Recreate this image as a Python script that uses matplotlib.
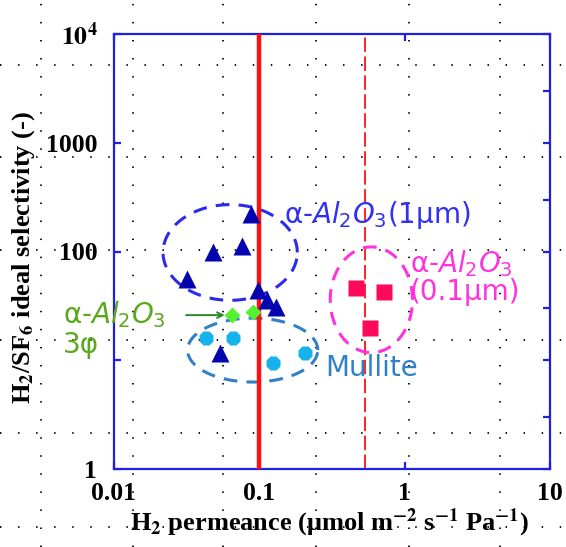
import numpy as np
import matplotlib
matplotlib.use("Agg")
import matplotlib.pyplot as plt
from matplotlib.lines import Line2D

# ===============================
# Data
# ===============================
tri_x = [0.087, 0.076, 0.048, 0.032, 0.098, 0.113, 0.13, 0.054]
tri_y = [223, 113, 98, 56, 44, 36, 31, 11.6]

dia_x = [0.065, 0.09]
dia_y = [26, 27.6]

mul_x = [0.043, 0.066, 0.125, 0.207]
mul_y = [16, 16, 9.4, 11.6]

sq_x = [0.46, 0.72, 0.58]
sq_y = [46, 42, 20]

x_ticks = [0.01, 0.1, 1, 10]
x_labels = ["0.01", "0.1", "1", "10"]
y_ticks = [1, 10, 100, 1000, 10000]
y_labels = ["1", "", "100", "1000", r"$\mathbf{10^4}$"]

# ellipses: (centre x, centre y, half-width in decades, half-height in decades)
ell_blue = (0.063, 98, 0.462, 0.44)
ell_mul = (0.09, 12.4, 0.448, 0.294)
ell_pink = (0.59, 36, 0.283, 0.486)

line_solid = 0.1
line_dash = 0.53

W, H = 566, 547
fig = plt.figure(figsize=(W / 100, H / 100), dpi=100)

# dotted background grid over the whole picture
for px in [41, 133, 223, 316, 409, 500]:
    fig.add_artist(Line2D([px / W, px / W], [0, 1], transform=fig.transFigure,
                          color="black", lw=1.3, linestyle=(0, (0.8, 9.2)), zorder=0))
for py in [65, 157, 250, 340, 433, 527]:
    fig.add_artist(Line2D([0, 1], [1 - py / H, 1 - py / H], transform=fig.transFigure,
                          color="black", lw=1.3, linestyle=(0, (0.8, 9.2)), zorder=0))

ax = fig.add_axes([114 / W, 1 - 469 / H, 436 / W, 435 / H])
ax.patch.set_alpha(0)
ax.set_xscale("log")
ax.set_yscale("log")
ax.set_xlim(0.01, 10)
ax.set_ylim(1, 10000)

spine_c = "#2020e0"
for s in ax.spines.values():
    s.set_color(spine_c)
    s.set_linewidth(1.6)

ax.set_xticks(x_ticks)
ax.set_xticklabels(x_labels)
ax.set_yticks(y_ticks)
ax.set_yticklabels(y_labels)
ax.set_yticks([3, 30, 300, 3000], minor=True)
ax.set_yticklabels([], minor=True)
ax.xaxis.set_minor_locator(matplotlib.ticker.NullLocator())
ax.tick_params(which="major", direction="in", length=5, width=1.6, color=spine_c,
               top=True, right=True, labelsize=18.5)
ax.tick_params(axis="y", which="major", pad=12)
ax.tick_params(axis="x", which="major", pad=9)
ax.tick_params(which="minor", direction="in", length=5, width=1.6, color=spine_c,
               left=False, right=True)
for lab in ax.get_xticklabels() + ax.get_yticklabels():
    lab.set_family("Liberation Serif")
    lab.set_fontweight("bold")
    lab.set_math_fontfamily("stix")

ax.set_xlabel(r"H$_\mathbf{2}$ permeance (μmol m$^{\mathbf{-2}}$ s$^{\mathbf{-1}}$ Pa$^{\mathbf{-1}}$)",
              family="Liberation Serif", fontweight="bold", fontsize=19,
              math_fontfamily="stix", va="center")
ax.set_ylabel(r"H$_\mathbf{2}$/SF$_\mathbf{6}$ ideal selectivity (-)",
              family="Liberation Serif", fontweight="bold", fontsize=19,
              math_fontfamily="stix", va="center")
ax.xaxis.set_label_coords((329 - 114) / 436, (469 - 523) / 435)
ax.yaxis.set_label_coords((24 - 114) / 436, (469 - 258) / 435)

# reference lines
ax.axvline(line_solid, color="#ff1010", lw=3.2, zorder=3)
ax.axvline(line_dash, color="#ff1010", lw=1.3, linestyle=(0, (8, 2.5)), zorder=1)


def ellipse(c, color, dashes):
    cx, cy, a, b = c
    t = np.linspace(0, 2 * np.pi, 200)
    ax.plot(10 ** (np.log10(cx) + a * np.cos(t)), 10 ** (np.log10(cy) + b * np.sin(t)),
            color=color, lw=2.2, linestyle=(0, dashes), zorder=2)


ellipse(ell_blue, "#2b2bef", (4.5, 3))
ellipse(ell_mul, "#2f80c6", (4.5, 3))
ellipse(ell_pink, "#ff33dd", (4.5, 3))

ax.plot(tri_x, tri_y, "^", color="#0505b0", ms=13, mec="none", zorder=4)
ax.plot(mul_x, mul_y, "8", color="#16b2ec", ms=11, mec="none", zorder=4)
ax.plot(dia_x, dia_y, "D", color="#55f030", ms=8, mec="none", zorder=4)
ax.plot(sq_x, sq_y, "s", color="#ff0a5a", ms=12, mec="none", zorder=4)


# annotations, positioned in pixels of the picture
def ptext(px, py, s, color):
    fig.text(px / W, 1 - py / H, s, color=color, va="center", ha="left", fontsize=20,
             math_fontfamily="dejavusans", family="DejaVu Sans", zorder=5)


ptext(284, 215, r"α-$\mathit{Al_2O_3}$(1μm)", "#3030f0")
ptext(410, 264, r"α-$\mathit{Al_2O_3}$", "#ff33dd")
ptext(410, 292, "(0.1μm)", "#ff33dd")
ptext(325, 368, "Mullite", "#2f80c6")
ptext(63, 315, r"α-$\mathit{Al_2O_3}$", "#5aa81c")
ptext(63, 345, "3φ", "#5aa81c")
ax.annotate("", xy=(dia_x[0] * 0.93, dia_y[0]), xytext=(0.03, dia_y[0]),
            arrowprops=dict(arrowstyle="->", color="#2a8a2a", lw=1.4), zorder=5)

fig.savefig("out.png", dpi=100)
